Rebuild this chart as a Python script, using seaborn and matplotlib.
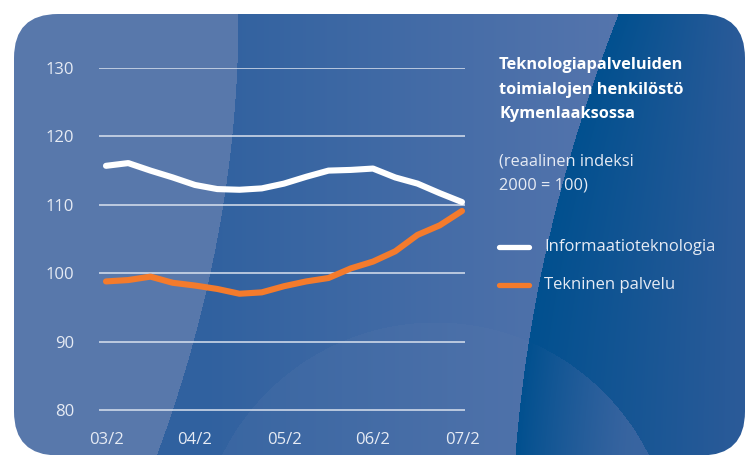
import numpy as np
import pandas as pd
import seaborn as sns
import matplotlib.pyplot as plt
from matplotlib.patches import FancyBboxPatch
from matplotlib.lines import Line2D

# data (quarterly index, 2000 = 100)
quarters = list(range(17))
tick_pos = [0, 4, 8, 12, 16]
tick_labels = ['03/2', '04/2', '05/2', '06/2', '07/2']
it_values = [115.7, 116.1, 115.0, 114.0, 112.9, 112.3, 112.2, 112.4, 113.1,
             114.1, 115.0, 115.1, 115.3, 114.0, 113.1, 111.7, 110.4]
tech_values = [98.8, 99.0, 99.5, 98.6, 98.2, 97.7, 97.0, 97.2, 98.1,
               98.8, 99.3, 100.7, 101.7, 103.2, 105.6, 107.0, 109.1]
series_names = ['Informaatioteknologia', 'Tekninen palvelu']
title_lines = ['Teknologiapalveluiden', 'toimialojen henkilöstö', 'Kymenlaaksossa']
note_lines = ['(reaalinen indeksi', '2000 = 100)']

W, H = 745, 455
line_colors = {'Informaatioteknologia': '#ffffff', 'Tekninen palvelu': '#f47b2c'}
txt_col = '#e6ebf4'

sns.set_theme(style='white')
plt.rcParams['font.family'] = ['Open Sans', 'DejaVu Sans']


def hexrgb(h):
    h = h.lstrip('#')
    return np.array([int(h[i:i + 2], 16) for i in (0, 2, 4)]) / 255.0


def px(x, y):
    return x / W, 1 - y / H


# background panel (decoration)
yy, xx = np.mgrid[0:H, 0:W].astype(float)
img = np.zeros((H, W, 3))
t = np.clip((xx - 200) / 420, 0, 1)[..., None]
img[:] = hexrgb('#30619f') * (1 - t) + hexrgb('#5575ad') * t

light = hexrgb('#5878ab')
in_circle = (xx - 435) ** 2 + (yy - 560) ** 2 < 238 ** 2
img[in_circle] = img[in_circle] * 0.8 + light * 0.2

b_left = 238 - 0.00042 * (yy - 14) ** 2
img[xx < b_left] = light

b_right = 0.0003543 * yy ** 2 - 0.3997 * yy + 623.5
right = xx > b_right
tr = np.clip((xx - b_right) / (W - b_right), 0, 1)[..., None]
dark = hexrgb('#01508f') * (1 - tr) + hexrgb('#2c5b99') * tr
img[right] = dark[right]
rc = right & in_circle
tc = (np.clip((xx - b_right) / 110, 0, 1) * 0.6)[..., None]
blend = dark * (1 - tc) + hexrgb('#4e6ea8') * tc
img[rc] = blend[rc]

fig = plt.figure(figsize=(W / 100, H / 100), dpi=100, facecolor='white')
ax_bg = fig.add_axes([0, 0, 1, 1], zorder=-1)
ax_bg.set_xlim(0, W)
ax_bg.set_ylim(H, 0)
ax_bg.axis('off')
im = ax_bg.imshow(img, extent=(0, W, H, 0), aspect='auto', interpolation='bilinear')
panel = FancyBboxPatch((14, 14), W - 14, H - 14 + 0.5, boxstyle='round,pad=0,rounding_size=44',
                       transform=ax_bg.transData, facecolor='none', edgecolor='none')
ax_bg.add_patch(panel)
im.set_clip_path(panel)

# chart
ax = fig.add_axes([99 / W, (H - 415.5) / H, 366 / W, (415.5 - 68) / H])
ax.set_facecolor('none')
df = pd.DataFrame({
    'Quarter': quarters * 2,
    'Index': it_values + tech_values,
    'Series': [series_names[0]] * 17 + [series_names[1]] * 17,
})
sns.lineplot(data=df, x='Quarter', y='Index', hue='Series', palette=line_colors,
             linewidth=4.4, legend=False, ax=ax, zorder=3)

ax.set_xlim(-7 / 22.25, 16 + 3 / 22.25)
ax.set_ylim(79.2, 130)
ax.set_yticks([80, 90, 100, 110, 120, 130])
ax.set_xticks(tick_pos)
ax.set_xticklabels(tick_labels)
ax.set_xlabel('')
ax.set_ylabel('')
for s in ax.spines.values():
    s.set_visible(False)
ax.grid(False)
for v in [80, 90, 100, 110, 120, 130]:
    ax.axhline(v, color='#d9e1ee', lw=1.1, zorder=1)
ax.tick_params(axis='y', length=0, pad=18, labelsize=12, labelcolor=txt_col)
ax.tick_params(axis='x', length=2.2, width=1, color='#d9e1ee', pad=9.5,
               labelsize=12, labelcolor=txt_col, direction='out')

# title and note
for i, s in enumerate(title_lines):
    fig.text(*px(499, 65 + 24.5 * i), s, color='white', fontsize=11.8,
             fontweight='bold', va='center', ha='left')
for i, s in enumerate(note_lines):
    fig.text(*px(499, 161 + 25 * i), s, color=txt_col, fontsize=11.8,
             va='center', ha='left')

# legend
for i, name in enumerate(series_names):
    y = 247 + 38 * i
    fig.add_artist(Line2D([499 / W, 529 / W], [1 - y / H, 1 - y / H],
                          color=line_colors[name], lw=3.8, transform=fig.transFigure))
    fig.text(*px(544, y), name, color=txt_col, fontsize=12, va='center', ha='left')

fig.savefig('out.png', dpi=100, facecolor='white')
